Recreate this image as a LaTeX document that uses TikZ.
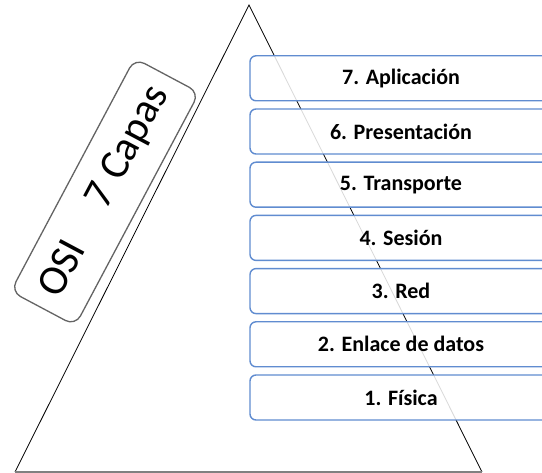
\documentclass[tikz,border=0pt]{standalone}
\usepackage{fontspec}
\setmainfont{Carlito}
\definecolor{layerblue}{RGB}{96,140,208}
\definecolor{osigray}{RGB}{100,100,100}
\begin{document}
\begin{tikzpicture}[x=1pt,y=-1pt,
  layer/.style={draw=layerblue, line width=1.4pt, fill=white, fill opacity=0.85, text opacity=1,
    rounded corners=6pt, minimum width=302pt, minimum height=45pt, inner sep=0pt,
    font=\fontsize{22}{26}\selectfont\bfseries},
  osibox/.style={draw=osigray, line width=1.3pt, fill=none, rounded corners=11pt,
    minimum width=264pt, minimum height=73pt, inner sep=0pt,
    font=\fontsize{42}{45}\selectfont},
  tri/.style={draw=black, line width=0.8pt}]
\useasboundingbox (0,0) rectangle (542,473);
\clip (0,0) rectangle (542,473);
\fill[white] (0,0) rectangle (542,473);
\coordinate (apex) at (249,5);
\coordinate (bl) at (15,472);
\coordinate (br) at (482,472);
\draw[tri] (bl) -- (apex) -- (br);
\draw[gray, line width=1.2pt] (bl) -- (br);
\node[layer] (l7) at (401,78.3) {7. Aplicación};
\node[layer] (l6) at (401,131.5) {6. Presentación};
\node[layer] (l5) at (401,184.7) {5. Transporte};
\node[layer] (l4) at (401,237.9) {4. Sesión};
\node[layer] (l3) at (401,291.1) {3. Red};
\node[layer] (l2) at (401,344.3) {2. Enlace de datos};
\node[layer] (l1) at (401,397.5) {1. Física};
\node[osibox, rotate=62] (osi) at (105,192) {\raisebox{-5pt}{OSI\hspace{1.05em}7 Capas}};
\end{tikzpicture}
\end{document}
